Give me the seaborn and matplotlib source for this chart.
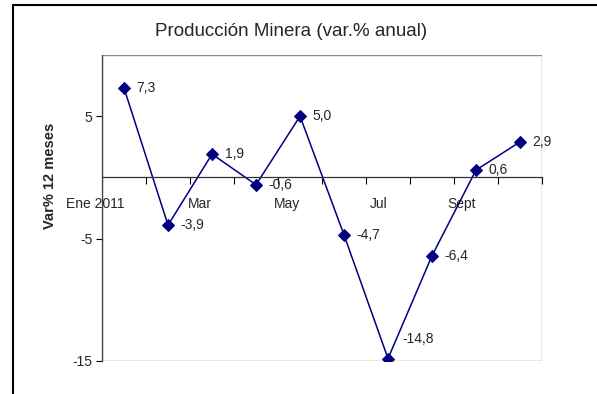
import matplotlib
matplotlib.use("Agg")
import matplotlib.pyplot as plt
import matplotlib.patches as mpatches
from matplotlib.lines import Line2D
import pandas as pd
import seaborn as sns

months = ["Ene 2011", "Feb", "Mar", "Abr", "May", "Jun", "Jul", "Ago", "Sept", "Oct"]
values = [7.3, -3.9, 1.9, -0.6, 5.0, -4.7, -14.8, -6.4, 0.6, 2.9]
value_labels = ["7,3", "-3,9", "1,9", "-0,6", "5,0", "-4,7", "-14,8", "-6,4", "0,6", "2,9"]
shown_months = ["Ene 2011", "Mar", "May", "Jul", "Sept"]
y_ticks = [-15, -5, 5]

sns.set_style("white")
plt.rcParams["font.family"] = ["Liberation Sans", "DejaVu Sans"]

df = pd.DataFrame({"pos": range(len(months)), "month": months, "value": values})

fig = plt.figure(figsize=(5.97, 3.94), dpi=100)
ax = fig.add_axes([0.1709, 0.0838, 0.737, 0.7766])

sns.lineplot(data=df, x="pos", y="value", ax=ax, color="#000080", marker="D",
             markersize=6, markeredgecolor="#000080", linewidth=1.1)

ax.set_xlim(-0.5, len(months) - 0.5)
ax.set_ylim(-15, 10)
ax.set_yticks(y_ticks)
ax.set_yticklabels([str(v) for v in y_ticks], fontsize=10)
ax.tick_params(axis="y", direction="out", length=4, width=0.8, color="black", pad=3, left=True)

# category axis crossing at zero
ax.spines["bottom"].set_position(("data", 0))
ax.spines["bottom"].set_color("#303030")
ax.spines["bottom"].set_linewidth(0.9)
major_pos = [months.index(m) for m in shown_months]
ax.set_xticks(major_pos)
ax.set_xticklabels(shown_months, fontsize=10, ha="right")
ax.set_xticks([p + 0.5 for p in range(len(months))], minor=True)
ax.tick_params(axis="x", which="major", length=0, pad=14)
ax.tick_params(axis="x", which="minor", direction="out", length=5, width=0.8,
               color="black", bottom=True)

for s in ["top", "right"]:
    ax.spines[s].set_visible(False)
ax.spines["left"].set_color("#404040")
ax.spines["left"].set_linewidth(0.9)
ax.add_patch(mpatches.Rectangle((0, 0), 1, 1, transform=ax.transAxes, fill=False,
                                edgecolor="#8c8c8c", linewidth=1.0, zorder=0.5))

for i, (v, t) in enumerate(zip(values, value_labels)):
    if v < -12:
        ax.annotate(t, (i, v), xytext=(10, 14), textcoords="offset points",
                    fontsize=10, va="center", ha="left")
    else:
        ax.annotate(t, (i, v), xytext=(9, 0), textcoords="offset points",
                    fontsize=10, va="center", ha="left")

ax.set_xlabel("")
ax.set_ylabel("")
fig.text(0.488, 0.919, "Producción Minera (var.% anual)", fontsize=13.5,
         ha="center", va="center")
fig.text(0.084, 0.554, "Var% 12 meses", fontsize=10.5, fontweight="bold",
         rotation=90, ha="center", va="center")

# outer chart frame
fig.add_artist(Line2D([13 / 597, 1.0], [1 - 5 / 394] * 2, transform=fig.transFigure,
                      color="black", linewidth=1.5))
fig.add_artist(Line2D([13 / 597] * 2, [0, 1 - 5 / 394], transform=fig.transFigure,
                      color="black", linewidth=1.5))

fig.savefig("out.png", dpi=100)
